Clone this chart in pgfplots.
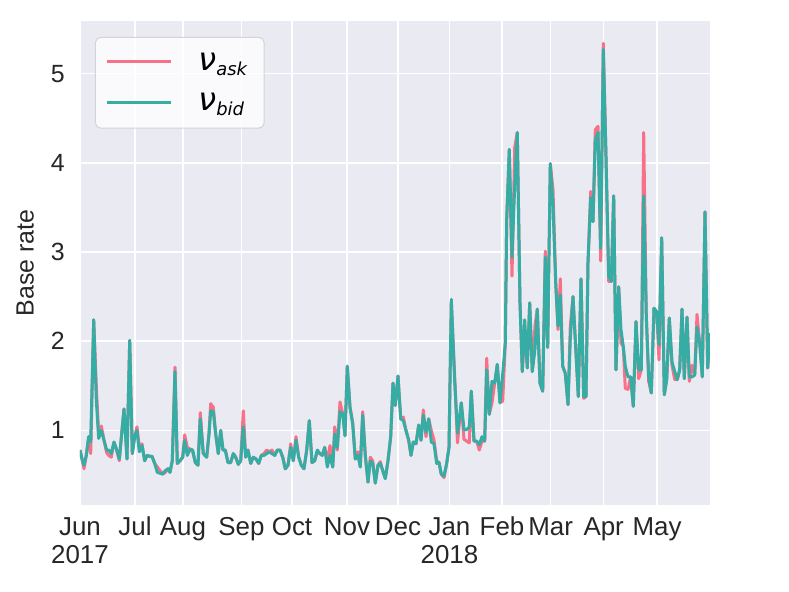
\documentclass[border=0pt]{standalone}
\usepackage{fontspec}
\setmainfont{Liberation Sans}
\newfontfamily\dvs{DejaVu Sans}
\usepackage{pgfplots}
\pgfplotsset{compat=1.18}
\usepackage{pgfplotstable}
\definecolor{askc}{HTML}{F77189}
\definecolor{bidc}{HTML}{36ADA4}
\definecolor{bgc}{HTML}{EAEAF2}
\definecolor{txtc}{HTML}{262626}
\definecolor{lgc}{HTML}{CCCCCC}
\newcommand{\nusub}[1]{{\dvs\fontsize{32}{36}\selectfont\itshape ν\raisebox{-5bp}{\fontsize{18}{20}\selectfont #1}\kern7bp}}

\pgfplotstableread{
x ask bid
80.0 0.78 0.78
82.0 0.68 0.68
84.0 0.57 0.61
86.3 0.72 0.72
88.7 0.93 0.93
90.7 0.74 0.87
93.7 2.24 2.24
96.3 1.50 1.34
98.7 0.95 0.91
101.3 1.05 1.00
104.0 0.89 0.89
106.7 0.75 0.78
108.7 0.72 0.78
111.3 0.70 0.74
114.0 0.87 0.87
116.7 0.78 0.78
119.3 0.66 0.68
122.0 1.00 1.00
124.0 1.24 1.24
127.0 0.68 0.68
129.7 2.01 2.01
132.3 0.74 0.74
134.7 0.93 0.93
137.0 1.04 1.00
139.3 0.81 0.76
142.0 0.85 0.83
144.7 0.66 0.66
147.0 0.72 0.72
149.7 0.71 0.71
152.0 0.71 0.71
154.7 0.63 0.63
157.3 0.59 0.53
160.0 0.55 0.52
162.7 0.51 0.51
165.3 0.53 0.55
168.0 0.57 0.57
170.0 0.53 0.53
172.3 0.66 0.66
175.0 1.71 1.66
177.3 0.63 0.63
180.0 0.66 0.66
182.7 0.70 0.70
184.7 0.95 0.89
187.3 0.81 0.72
190.0 0.79 0.79
192.7 0.76 0.78
195.3 0.64 0.64
198.0 0.61 0.61
200.3 1.20 1.13
203.3 0.74 0.74
206.7 0.70 0.70
209.0 0.96 0.96
210.7 1.30 1.22
213.3 1.26 1.21
215.7 0.96 0.96
218.3 0.74 0.74
220.7 1.00 1.00
223.0 0.78 0.78
225.3 0.78 0.78
228.0 0.64 0.64
230.7 0.64 0.64
233.3 0.74 0.74
235.7 0.70 0.70
238.3 0.62 0.62
240.7 0.66 0.66
243.3 1.22 1.04
245.7 0.70 0.70
248.0 0.78 0.78
250.7 0.63 0.63
253.3 0.70 0.70
256.0 0.68 0.68
258.7 0.63 0.63
261.3 0.72 0.72
264.0 0.74 0.72
266.7 0.78 0.74
269.3 0.76 0.76
272.0 0.78 0.74
274.7 0.72 0.72
277.3 0.78 0.78
280.0 0.78 0.78
282.7 0.70 0.70
285.3 0.57 0.57
288.0 0.61 0.61
290.7 0.85 0.81
293.3 0.66 0.66
296.0 0.93 0.89
298.7 0.70 0.70
301.3 0.61 0.61
304.0 0.57 0.57
306.7 0.78 0.78
309.3 1.11 1.11
312.0 0.64 0.64
314.7 0.66 0.66
317.3 0.76 0.78
320.0 0.74 0.74
322.3 0.72 0.72
324.7 0.81 0.81
327.3 0.66 0.59
330.0 0.83 0.72
332.7 0.59 0.59
334.7 1.04 0.96
337.3 0.78 0.81
340.0 1.32 1.21
342.7 1.19 1.19
345.0 0.94 0.94
347.3 1.72 1.72
350.0 1.26 1.26
352.7 1.09 1.07
355.3 0.68 0.68
358.0 0.76 0.72
360.3 0.59 0.59
362.7 1.21 1.17
365.3 0.72 0.72
368.0 0.42 0.42
370.3 0.70 0.66
372.7 0.66 0.63
375.3 0.41 0.41
378.0 0.61 0.61
380.3 0.65 0.63
382.7 0.55 0.55
385.3 0.46 0.46
388.0 0.66 0.66
390.7 0.93 0.93
393.0 1.53 1.53
395.3 1.28 1.28
398.0 1.61 1.61
400.7 1.13 1.13
403.3 1.15 1.11
406.0 1.00 1.00
408.7 0.89 0.89
411.0 0.72 0.72
413.3 0.87 0.87
416.0 0.85 0.85
418.7 1.06 1.06
421.0 0.89 0.89
423.3 1.23 1.17
426.0 0.93 0.98
428.7 1.13 1.13
431.3 1.00 0.87
434.0 0.89 0.85
436.7 0.66 0.63
439.0 0.64 0.64
441.3 0.51 0.51
444.0 0.47 0.49
446.7 0.63 0.63
449.0 0.81 0.81
451.3 2.45 2.47
454.5 1.65 1.60
457.5 0.86 0.97
461.3 1.31 1.31
464.0 0.90 1.01
466.7 0.88 1.01
469.3 0.86 1.04
471.3 1.44 1.44
474.0 0.88 0.88
476.7 0.88 0.88
479.3 0.78 0.84
482.0 0.88 0.93
484.7 0.88 0.88
486.7 1.81 1.68
489.3 1.18 1.18
492.0 1.31 1.55
494.7 1.53 1.53
497.3 1.74 1.74
500.0 1.31 1.31
502.7 1.33 1.63
505.3 1.98 1.98
506.7 3.35 3.37
509.3 4.15 4.15
512.0 2.73 2.94
514.7 4.17 3.74
517.3 4.34 4.34
520.0 2.43 2.43
522.3 1.66 1.66
524.7 2.13 2.24
527.3 1.70 1.70
529.7 2.43 2.43
532.3 1.66 1.66
535.0 2.17 1.91
537.3 2.36 2.36
540.0 1.53 1.53
542.7 1.44 1.44
545.3 3.01 2.94
547.7 1.93 1.93
550.3 3.99 3.99
553.0 3.70 3.52
555.7 2.66 2.66
558.0 2.13 2.17
560.3 2.70 2.52
562.7 1.72 1.72
565.3 1.64 1.64
568.0 1.29 1.29
570.3 2.17 2.02
573.0 2.50 2.50
575.7 1.93 1.93
578.3 1.38 1.38
581.0 2.70 2.70
583.7 1.36 1.38
586.0 1.38 1.38
588.0 2.88 2.88
590.7 3.68 3.61
593.0 3.34 3.34
595.3 4.37 4.26
598.0 4.41 4.34
600.7 2.90 3.04
603.3 5.34 5.27
606.0 4.07 4.07
608.7 2.67 2.73
611.3 2.67 2.67
613.7 3.63 3.63
616.0 1.68 1.68
618.7 2.61 2.61
621.0 1.98 2.13
623.3 1.94 1.94
625.3 1.47 1.72
628.0 1.46 1.60
630.7 1.60 1.60
633.3 1.27 1.27
636.0 2.22 2.22
638.7 1.58 1.68
641.3 1.68 1.68
643.7 4.34 3.63
646.3 2.28 2.28
648.7 1.55 1.60
651.3 1.42 1.42
654.0 2.37 2.37
656.7 2.33 2.33
659.0 1.79 1.96
661.7 3.16 3.16
664.3 1.40 1.40
666.7 1.57 1.57
669.3 2.26 2.26
672.0 1.73 1.77
674.7 1.57 1.66
677.3 1.57 1.57
679.7 1.68 1.68
682.0 2.36 2.36
684.3 1.58 1.58
687.0 2.27 2.27
689.3 1.55 1.60
692.0 1.73 1.60
694.7 1.62 1.62
697.0 2.30 2.16
699.7 1.98 1.98
702.3 1.60 1.60
705.0 3.45 3.45
707.7 1.70 1.70
710.0 2.09 2.09
}\data

\begin{document}
\begin{tikzpicture}
\useasboundingbox (-80bp,-87bp) rectangle (709bp,505bp);
\begin{axis}[
  at={(0,0)}, anchor=south west,
  scale only axis, width=630bp, height=484bp,
  xmin=80, xmax=710, ymin=0.164, ymax=5.59,
  axis background/.style={fill=bgc},
  axis line style={draw=none},
  major tick length=0pt,
  grid=major, major grid style={white, line width=1.5bp},
  xtick={80,135,183,241.5,292,347,398,449.5,502,550.7,603.7,657},
  xticklabels={{Jun\\2017},Jul,Aug,Sep,Oct,Nov,Dec,{Jan\\2018},Feb,Mar,Apr,May},
  xticklabel style={align=center, font=\fontsize{26}{29}\selectfont, text=txtc, anchor=north, inner sep=0pt, yshift=-12bp},
  ytick={1,2,3,4,5}, yticklabels={1,2,3,4,5},
  yticklabel style={font=\fontsize{25}{29}\selectfont, text=txtc, anchor=east, inner sep=0pt, xshift=-15bp},
  ylabel={Base rate},
  ylabel style={font=\fontsize{25}{29}\selectfont, text=txtc, at={(axis description cs:-0.087,0.5)}, anchor=center},
  legend style={at={(axis description cs:0.0238,0.967)}, anchor=north west,
    draw=lgc, line width=1bp, fill=white, fill opacity=0.8, text opacity=1, draw opacity=0.8,
    rounded corners=5bp, inner xsep=10bp, inner ysep=15.6bp,
    column sep=26bp, row sep=21.5bp,
    nodes={inner sep=0pt}, cells={anchor=base west}},
  legend image code/.code={\draw[#1, opacity=1, line width=3bp] (0bp,8.7bp) -- (64bp,8.7bp);},
  line join=round,
]
\addplot[askc, line width=3bp, line join=round] table[x=x, y=ask] {\data};
\addlegendentry{\nusub{ask}}
\addplot[bidc, line width=3bp, line join=round] table[x=x, y=bid] {\data};
\addlegendentry{\nusub{bid}}
\end{axis}
\end{tikzpicture}
\end{document}
